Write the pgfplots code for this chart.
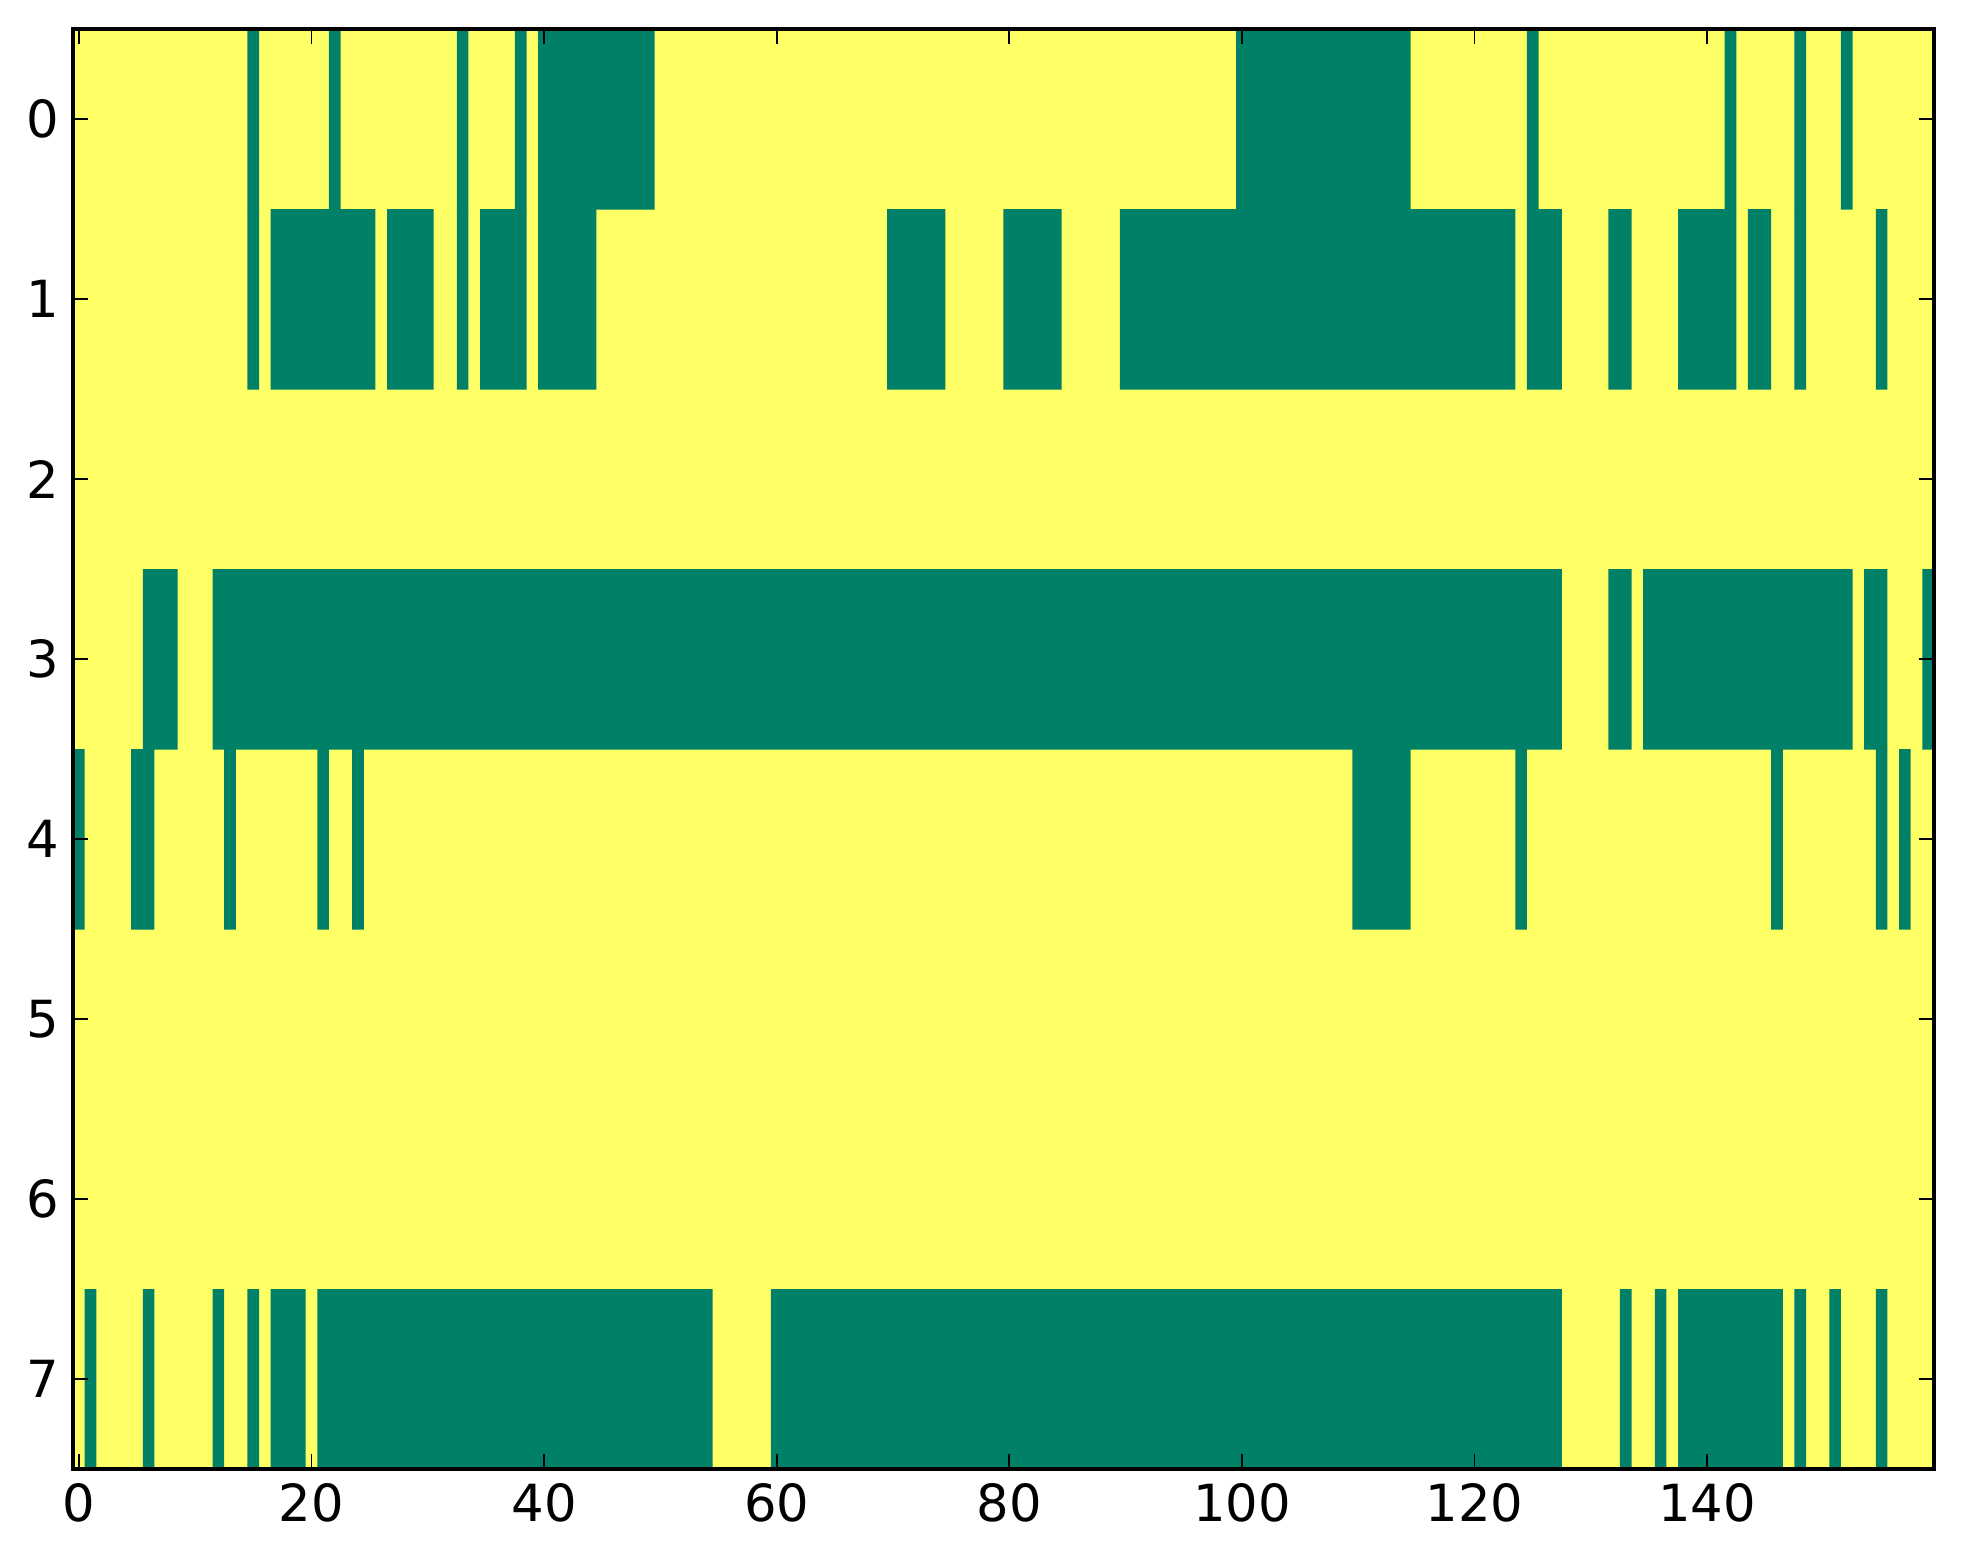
\documentclass[border=0pt]{standalone}
\usepackage{pgfplots}
\pgfplotsset{compat=1.18}
\usepackage{fontspec}
\setmainfont{DejaVu Sans}
\definecolor{sgreen}{RGB}{0,128,102}
\definecolor{syellow}{RGB}{255,255,102}
\begin{document}
\begin{tikzpicture}
\begin{axis}[
  name=ax,
  scale only axis, width=465.25pt, height=360pt,
  xmin=-0.5, xmax=159.5, ymin=-0.5, ymax=7.5,
  y dir=reverse,
  xtick={0,20,...,140}, ytick={0,...,7},
  minor tick num=0,
  tick align=inside,
  major tick length=3.7pt,
  every tick/.style={black, line width=0.45pt},
  axis line style={line width=1pt},
  axis on top,
  unbounded coords=jump,
  ticklabel style={font=\fontsize{12.8}{15}\selectfont},
  /pgf/number format/assume math mode=true,
]
% value 1 (yellow) everywhere as base
\addplot[fill=syellow, draw=none] coordinates {(-0.5,-0.5) (159.5,-0.5) (159.5,7.5) (-0.5,7.5)};
% row 0
\addplot[fill=sgreen, draw=none] coordinates {
(14.5,-0.5) (14.5,0.504) (15.5,0.504) (15.5,-0.5) (nan,nan)
(21.5,-0.5) (21.5,0.504) (22.5,0.504) (22.5,-0.5) (nan,nan)
(32.5,-0.5) (32.5,0.504) (33.5,0.504) (33.5,-0.5) (nan,nan)
(37.5,-0.5) (37.5,0.504) (38.5,0.504) (38.5,-0.5) (nan,nan)
(39.5,-0.5) (39.5,0.504) (49.5,0.504) (49.5,-0.5) (nan,nan)
(99.5,-0.5) (99.5,0.504) (114.5,0.504) (114.5,-0.5) (nan,nan)
(124.5,-0.5) (124.5,0.504) (125.5,0.504) (125.5,-0.5) (nan,nan)
(141.5,-0.5) (141.5,0.504) (142.5,0.504) (142.5,-0.5) (nan,nan)
(147.5,-0.5) (147.5,0.504) (148.5,0.504) (148.5,-0.5) (nan,nan)
(151.5,-0.5) (151.5,0.504) (152.5,0.504) (152.5,-0.5)
};
% row 1
\addplot[fill=sgreen, draw=none] coordinates {
(14.5,0.5) (14.5,1.504) (15.5,1.504) (15.5,0.5) (nan,nan)
(16.5,0.5) (16.5,1.504) (25.5,1.504) (25.5,0.5) (nan,nan)
(26.5,0.5) (26.5,1.504) (30.5,1.504) (30.5,0.5) (nan,nan)
(32.5,0.5) (32.5,1.504) (33.5,1.504) (33.5,0.5) (nan,nan)
(34.5,0.5) (34.5,1.504) (38.5,1.504) (38.5,0.5) (nan,nan)
(39.5,0.5) (39.5,1.504) (44.5,1.504) (44.5,0.5) (nan,nan)
(69.5,0.5) (69.5,1.504) (74.5,1.504) (74.5,0.5) (nan,nan)
(79.5,0.5) (79.5,1.504) (84.5,1.504) (84.5,0.5) (nan,nan)
(89.5,0.5) (89.5,1.504) (123.5,1.504) (123.5,0.5) (nan,nan)
(124.5,0.5) (124.5,1.504) (127.5,1.504) (127.5,0.5) (nan,nan)
(131.5,0.5) (131.5,1.504) (133.5,1.504) (133.5,0.5) (nan,nan)
(137.5,0.5) (137.5,1.504) (142.5,1.504) (142.5,0.5) (nan,nan)
(143.5,0.5) (143.5,1.504) (145.5,1.504) (145.5,0.5) (nan,nan)
(147.5,0.5) (147.5,1.504) (148.5,1.504) (148.5,0.5) (nan,nan)
(154.5,0.5) (154.5,1.504) (155.5,1.504) (155.5,0.5)
};
% row 3
\addplot[fill=sgreen, draw=none] coordinates {
(5.5,2.5) (5.5,3.504) (8.5,3.504) (8.5,2.5) (nan,nan)
(11.5,2.5) (11.5,3.504) (127.5,3.504) (127.5,2.5) (nan,nan)
(131.5,2.5) (131.5,3.504) (133.5,3.504) (133.5,2.5) (nan,nan)
(134.5,2.5) (134.5,3.504) (152.5,3.504) (152.5,2.5) (nan,nan)
(153.5,2.5) (153.5,3.504) (155.5,3.504) (155.5,2.5) (nan,nan)
(158.5,2.5) (158.5,3.504) (159.5,3.504) (159.5,2.5)
};
% row 4
\addplot[fill=sgreen, draw=none] coordinates {
(-0.5,3.5) (-0.5,4.504) (0.5,4.504) (0.5,3.5) (nan,nan)
(4.5,3.5) (4.5,4.504) (6.5,4.504) (6.5,3.5) (nan,nan)
(12.5,3.5) (12.5,4.504) (13.5,4.504) (13.5,3.5) (nan,nan)
(20.5,3.5) (20.5,4.504) (21.5,4.504) (21.5,3.5) (nan,nan)
(23.5,3.5) (23.5,4.504) (24.5,4.504) (24.5,3.5) (nan,nan)
(109.5,3.5) (109.5,4.504) (114.5,4.504) (114.5,3.5) (nan,nan)
(123.5,3.5) (123.5,4.504) (124.5,4.504) (124.5,3.5) (nan,nan)
(145.5,3.5) (145.5,4.504) (146.5,4.504) (146.5,3.5) (nan,nan)
(154.5,3.5) (154.5,4.504) (155.5,4.504) (155.5,3.5) (nan,nan)
(156.5,3.5) (156.5,4.504) (157.5,4.504) (157.5,3.5)
};
% row 7
\addplot[fill=sgreen, draw=none] coordinates {
(0.5,6.5) (0.5,7.5) (1.5,7.5) (1.5,6.5) (nan,nan)
(5.5,6.5) (5.5,7.5) (6.5,7.5) (6.5,6.5) (nan,nan)
(11.5,6.5) (11.5,7.5) (12.5,7.5) (12.5,6.5) (nan,nan)
(14.5,6.5) (14.5,7.5) (15.5,7.5) (15.5,6.5) (nan,nan)
(16.5,6.5) (16.5,7.5) (19.5,7.5) (19.5,6.5) (nan,nan)
(20.5,6.5) (20.5,7.5) (54.5,7.5) (54.5,6.5) (nan,nan)
(59.5,6.5) (59.5,7.5) (127.5,7.5) (127.5,6.5) (nan,nan)
(132.5,6.5) (132.5,7.5) (133.5,7.5) (133.5,6.5) (nan,nan)
(135.5,6.5) (135.5,7.5) (136.5,7.5) (136.5,6.5) (nan,nan)
(137.5,6.5) (137.5,7.5) (146.5,7.5) (146.5,6.5) (nan,nan)
(147.5,6.5) (147.5,7.5) (148.5,7.5) (148.5,6.5) (nan,nan)
(150.5,6.5) (150.5,7.5) (151.5,7.5) (151.5,6.5) (nan,nan)
(154.5,6.5) (154.5,7.5) (155.5,7.5) (155.5,6.5)
};
\end{axis}
\path (ax.south west) ++(-18.25pt,-23.75pt);
\path (ax.north east) ++(7.25pt,7.25pt);
\end{tikzpicture}
\end{document}
